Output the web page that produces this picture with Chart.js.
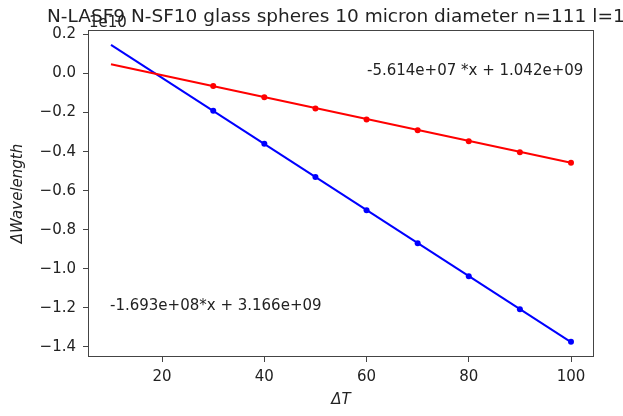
<!DOCTYPE html>
<html lang="en">
<head>
    <meta charset="UTF-8">
    <title>N-LASF9 N-SF10 glass spheres</title>
    <script src="https://cdn.jsdelivr.net/npm/chart.js"></script>
    <style>
        body {
            margin: 0;
            background-color: white;
        }
        canvas {
            display: block;
        }
    </style>
</head>
<body>
    <canvas id="fitChart" width="623" height="416"></canvas>

    <script>
        // Values in units of 1e10 (see offset label)
        const pointTemps = [30, 40, 50, 60, 70, 80, 90, 100];
        const redShift = [-0.064, -0.122, -0.179, -0.235, -0.291, -0.347, -0.403, -0.457];
        const blueShift = [-0.191, -0.360, -0.530, -0.700, -0.869, -1.038, -1.207, -1.374];

        // Fitted lines, drawn from the first to the last temperature
        const fitTemps = [10, 100];
        const redFit = [0.048, -0.457];
        const blueFit = [0.147, -1.376];

        const xTicks = [20, 40, 60, 80, 100];
        const yTicks = [0.2, 0.0, -0.2, -0.4, -0.6, -0.8, -1.0, -1.2, -1.4];

        const titleText = 'N-LASF9 N-SF10 glass spheres 10 micron diameter n=111 l=11';
        const redLabel = '-5.614e+07 *x + 1.042e+09';
        const blueLabel = '-1.693e+08*x + 3.166e+09';

        const FONT = 'DejaVu Sans';
        const TEXT = '#222';
        const SPINE = '#444';
        const SIZE = 15;

        const toXY = (xs, ys) => xs.map((x, i) => ({ x: x, y: ys[i] }));

        // Frame, title, offset text, axis titles and fit equations
        const textPlugin = {
            id: 'textPlugin',
            afterDraw: (chart) => {
                const ctx = chart.ctx;
                const a = chart.chartArea;
                ctx.save();
                ctx.strokeStyle = SPINE;
                ctx.lineWidth = 1;
                ctx.strokeRect(a.left + 0.5, a.top + 0.5, a.right - a.left - 1, a.bottom - a.top - 1);

                ctx.fillStyle = TEXT;
                ctx.textBaseline = 'alphabetic';
                ctx.textAlign = 'left';
                ctx.font = '18.5px ' + FONT;
                ctx.fillText(titleText, 47, 22);

                ctx.font = SIZE + 'px ' + FONT;
                ctx.fillText('1e10', a.left + 1, 27);

                ctx.fillText(redLabel, 367, 75);
                ctx.fillText(blueLabel, 110, 310);

                ctx.font = 'italic ' + SIZE + 'px ' + FONT;
                ctx.textAlign = 'center';
                ctx.textBaseline = 'middle';
                ctx.fillText('ΔT', (a.left + a.right) / 2, 400);

                ctx.translate(18, (a.top + a.bottom) / 2);
                ctx.rotate(-Math.PI / 2);
                ctx.fillText('ΔWavelength', 0, 0);
                ctx.restore();
            }
        };

        const config = {
            type: 'line',
            data: {
                datasets: [
                    {
                        label: 'red points',
                        data: toXY(pointTemps, redShift),
                        showLine: false,
                        pointRadius: 3,
                        pointBackgroundColor: '#ff0000',
                        pointBorderWidth: 0,
                        borderColor: '#ff0000'
                    },
                    {
                        label: 'blue points',
                        data: toXY(pointTemps, blueShift),
                        showLine: false,
                        pointRadius: 3,
                        pointBackgroundColor: '#0000ff',
                        pointBorderWidth: 0,
                        borderColor: '#0000ff'
                    },
                    {
                        label: 'red fit',
                        data: toXY(fitTemps, redFit),
                        borderColor: '#ff0000',
                        borderWidth: 2,
                        pointRadius: 0
                    },
                    {
                        label: 'blue fit',
                        data: toXY(fitTemps, blueFit),
                        borderColor: '#0000ff',
                        borderWidth: 2,
                        pointRadius: 0
                    }
                ]
            },
            options: {
                responsive: false,
                animation: false,
                plugins: {
                    legend: { display: false },
                    tooltip: { enabled: false }
                },
                layout: {
                    padding: { top: 30, right: 29, left: 0, bottom: 0 }
                },
                scales: {
                    x: {
                        type: 'linear',
                        min: 5.5,
                        max: 104.5,
                        afterBuildTicks: (scale) => {
                            scale.ticks = xTicks.map(v => ({ value: v }));
                        },
                        afterFit: (scale) => { scale.height = 59; },
                        ticks: {
                            color: TEXT,
                            font: { family: FONT, size: SIZE },
                            padding: 6,
                            maxRotation: 0,
                            callback: (v) => String(v)
                        },
                        grid: {
                            drawOnChartArea: false,
                            drawTicks: true,
                            tickLength: 5,
                            color: SPINE
                        },
                        border: { display: false }
                    },
                    y: {
                        type: 'linear',
                        min: -1.452,
                        max: 0.223,
                        afterBuildTicks: (scale) => {
                            scale.ticks = yTicks.map(v => ({ value: v }));
                        },
                        afterFit: (scale) => { scale.width = 88; },
                        ticks: {
                            color: TEXT,
                            font: { family: FONT, size: SIZE },
                            padding: 7,
                            callback: (v) => (v < -1e-9 ? '\u2212' : '') + Math.abs(v).toFixed(1)
                        },
                        grid: {
                            drawOnChartArea: false,
                            drawTicks: true,
                            tickLength: 5,
                            color: SPINE
                        },
                        border: { display: false }
                    }
                }
            },
            plugins: [textPlugin]
        };

        const fitChart = new Chart(document.getElementById('fitChart'), config);
    </script>
</body>
</html>
